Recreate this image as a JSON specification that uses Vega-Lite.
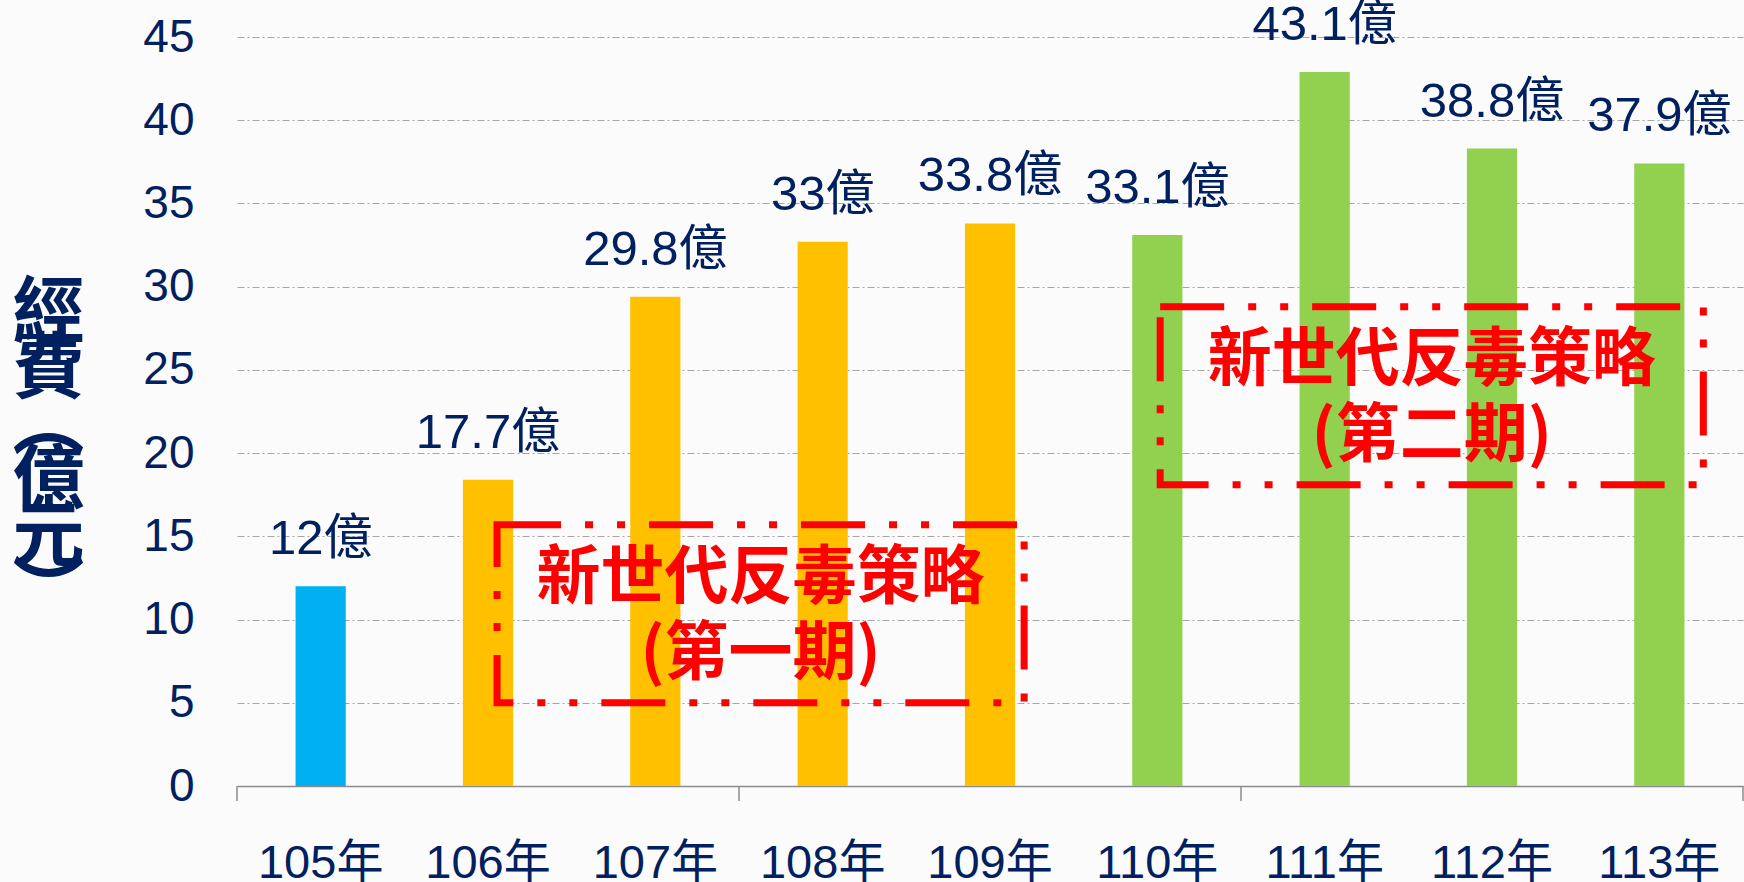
{
  "$schema": "https://vega.github.io/schema/vega-lite/v6.json",
  "width": 1506,
  "height": 749,
  "autosize": {"type": "none"},
  "padding": {"left": 237, "top": 37, "right": 1, "bottom": 96},
  "background": "#FBFBFB",
  "config": {"view": {"stroke": null}, "font": "Liberation Sans, Noto Sans CJK TC"},
  "datasets": {
    "funds": [
      {"year": "105年", "value": 12.0, "label": "12億", "phase": "105"},
      {"year": "106年", "value": 18.4, "label": "17.7億", "phase": "第一期"},
      {"year": "107年", "value": 29.4, "label": "29.8億", "phase": "第一期"},
      {"year": "108年", "value": 32.7, "label": "33億", "phase": "第一期"},
      {"year": "109年", "value": 33.8, "label": "33.8億", "phase": "第一期"},
      {"year": "110年", "value": 33.1, "label": "33.1億", "phase": "第二期"},
      {"year": "111年", "value": 42.9, "label": "43.1億", "phase": "第二期"},
      {"year": "112年", "value": 38.3, "label": "38.8億", "phase": "第二期"},
      {"year": "113年", "value": 37.4, "label": "37.9億", "phase": "第二期"}
    ],
    "boxes": [
      {"x": 1.554, "x2": 4.704, "y": 5.0, "y2": 15.7, "text": "新世代反毒策略\n(第一期)"},
      {"x": 5.517, "x2": 8.763, "y": 18.1, "y2": 28.8, "text": "新世代反毒策略\n(第二期)"}
    ]
  },
  "resolve": {"scale": {"x": "independent"}},
  "layer": [
    {
      "data": {"name": "funds"},
      "encoding": {
        "x": {
          "field": "year", "type": "nominal", "sort": null,
          "scale": {"paddingInner": 0, "paddingOuter": 0},
          "axis": {
            "title": null, "orient": "bottom", "grid": false,
            "domainColor": "#8C8C8C", "domainWidth": 1.5,
            "ticks": false, "tickSize": 0,
            "labelFontSize": 47, "labelColor": "#002060", "labelFont": "Liberation Sans, Noto Sans CJK TC",
            "labelPadding": 91, "labelBaseline": "alphabetic", "labelAngle": 0
          }
        },
        "y": {
          "field": "value", "type": "quantitative",
          "scale": {"domain": [0, 45], "nice": false},
          "axis": {
            "values": [0, 5, 10, 15, 20, 25, 30, 35, 40, 45],
            "domain": false, "ticks": false, "tickSize": 0,
            "grid": true, "gridColor": "#A6A6A6", "gridWidth": 1.2, "gridDash": [7, 3, 2, 3],
            "labelFontSize": 46, "labelColor": "#002060", "labelFont": "Liberation Sans",
            "labelPadding": 43,
            "title": ["經", "費", "︵", "億", "元", "︶"],
            "titleAngle": 0, "titleX": -189, "titleY": 241,
            "titleAlign": "center", "titleBaseline": "top",
            "titleFont": "Noto Sans CJK TC", "titleFontSize": 72, "titleFontWeight": "bold",
            "titleColor": "#002060", "titleLineHeight": 56
          }
        }
      },
      "layer": [
        {
          "mark": {"type": "bar", "width": {"band": 0.3}},
          "encoding": {
            "color": {
              "field": "phase", "type": "nominal",
              "scale": {"domain": ["105", "第一期", "第二期"], "range": ["#00B0F0", "#FFC000", "#92D050"]},
              "legend": null
            }
          }
        },
        {
          "mark": {"type": "text", "baseline": "alphabetic", "align": "center", "dy": -32, "fontSize": 49, "color": "#002060", "font": "Liberation Sans, Noto Sans CJK TC"},
          "encoding": {"text": {"field": "label", "type": "nominal"}}
        }
      ]
    },
    {
      "data": {"values": [{"year": "105年"}, {"year": "108年"}, {"year": "111年"}]},
      "mark": {"type": "rule", "color": "#8C8C8C", "strokeWidth": 1.5, "y2Offset": 15},
      "encoding": {
        "x": {"field": "year", "type": "nominal", "bandPosition": 0, "scale": {"domain": ["105年","106年","107年","108年","109年","110年","111年","112年","113年"], "paddingInner": 0, "paddingOuter": 0}, "axis": null},
        "y": {"datum": 0, "type": "quantitative", "scale": {"domain": [0, 45], "nice": false}},
        "y2": {"datum": 0}
      }
    },
    {
      "data": {"values": [{"year": "113年"}]},
      "mark": {"type": "rule", "color": "#8C8C8C", "strokeWidth": 1.5, "y2Offset": 15},
      "encoding": {
        "x": {"field": "year", "type": "nominal", "bandPosition": 1, "scale": {"domain": ["105年","106年","107年","108年","109年","110年","111年","112年","113年"], "paddingInner": 0, "paddingOuter": 0}, "axis": null},
        "y": {"datum": 0, "type": "quantitative", "scale": {"domain": [0, 45], "nice": false}},
        "y2": {"datum": 0}
      }
    },
    {
      "data": {"name": "boxes"},
      "transform": [
        {"calculate": "(datum.x + datum.x2) / 2", "as": "cx"},
        {"calculate": "(datum.y + datum.y2) / 2", "as": "cy"}
      ],
      "layer": [
        {
          "mark": {"type": "rect", "fill": "white", "fillOpacity": 0, "stroke": "#FF0000", "strokeWidth": 7, "strokeDash": [64, 24, 8, 24, 8, 24]},
          "encoding": {
            "x": {"field": "x", "type": "quantitative", "scale": {"domain": [0, 9], "nice": false, "zero": false}, "axis": null},
            "x2": {"field": "x2"},
            "y": {"field": "y", "type": "quantitative", "scale": {"domain": [0, 45], "nice": false}},
            "y2": {"field": "y2"}
          }
        },
        {
          "mark": {"type": "text", "lineBreak": "\n", "align": "center", "baseline": "middle", "font": "Noto Sans CJK TC", "fontWeight": "bold", "fontSize": 64, "lineHeight": 76, "color": "#FF0000", "dy": -35},
          "encoding": {
            "x": {"field": "cx", "type": "quantitative", "scale": {"domain": [0, 9], "nice": false, "zero": false}, "axis": null},
            "y": {"field": "cy", "type": "quantitative", "scale": {"domain": [0, 45], "nice": false}},
            "text": {"field": "text", "type": "nominal"}
          }
        }
      ]
    }
  ]
}
